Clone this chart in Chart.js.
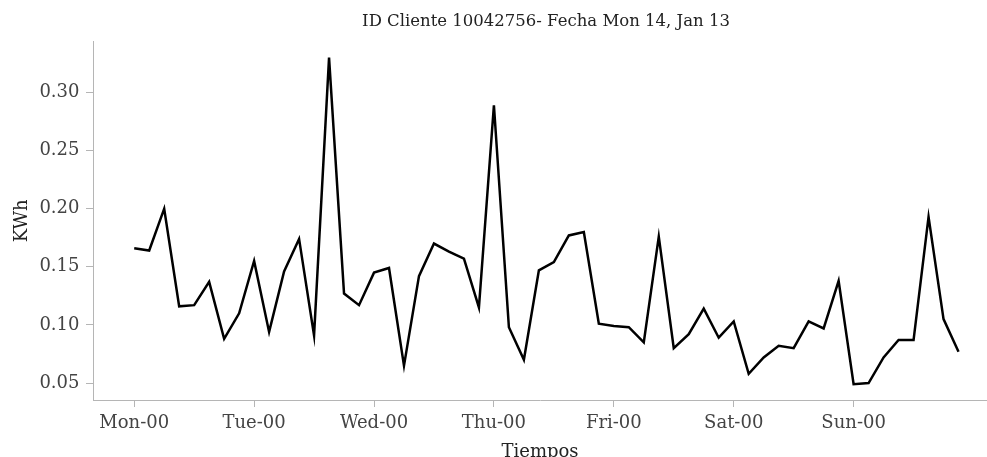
<!DOCTYPE html>
<html>
<head>
<meta charset="utf-8">
<script src="https://cdn.jsdelivr.net/npm/chart.js@4"></script>
<style>
  html, body { margin: 0; padding: 0; background: #fff; }
  #wrap { width: 987px; height: 457px; }
</style>
</head>
<body>
<div id="wrap"><canvas id="kwhChart" width="987" height="457"></canvas></div>
<script>
// consumo cada 3 horas, lunes 00h a domingo 21h
const kwh = [
  0.166, 0.164, 0.200, 0.116, 0.117, 0.137, 0.088, 0.110,
  0.155, 0.094, 0.146, 0.174, 0.091, 0.330, 0.127, 0.117,
  0.145, 0.149, 0.065, 0.142, 0.170, 0.163, 0.157, 0.115,
  0.289, 0.098, 0.070, 0.147, 0.154, 0.177, 0.180, 0.101,
  0.099, 0.098, 0.085, 0.176, 0.080, 0.092, 0.114, 0.089,
  0.103, 0.058, 0.072, 0.082, 0.080, 0.103, 0.097, 0.138,
  0.049, 0.050, 0.072, 0.087, 0.087, 0.193, 0.105, 0.077,
];
const dayLabels = ["Mon-00", "Tue-00", "Wed-00", "Thu-00", "Fri-00", "Sat-00", "Sun-00"];
const stepsPerDay = 8;
const yTicks = [0.05, 0.10, 0.15, 0.20, 0.25, 0.30];

const chartTitle = "ID Cliente 10042756- Fecha Mon 14, Jan 13";
const axisGray = "#b5b5b5";
const serif = "'DejaVu Serif', serif";

// same margins as the original plot (5% each side)
const yMin = 0.0354;
const yMax = 0.3436;
const xMin = -2.75;
const xMax = 56.9;

const points = kwh.map((v, i) => ({ x: i, y: v }));

// the original axes run past the right edge, so its title sits a bit right of our chart area centre
const titleShift = {
  id: "titleShift",
  afterLayout(chart) {
    const t = chart.titleBlock;
    if (!t) return;
    t.left += 6;
    t.right += 6;
  },
};

const kwhChart = new Chart(document.getElementById("kwhChart"), {
  type: "line",
  data: {
    datasets: [
      {
        data: points,
        borderColor: "#000",
        borderWidth: 2.5,
        pointRadius: 0,
        tension: 0,
        fill: false,
      },
    ],
  },
  plugins: [titleShift],
  options: {
    responsive: false,
    animation: false,
    layout: { padding: 0 },
    plugins: {
      legend: { display: false },
      tooltip: { enabled: false },
      title: {
        display: true,
        text: chartTitle,
        fullSize: false,
        color: "#222",
        font: { family: serif, size: 16.5, weight: "normal", lineHeight: 1.2 },
        padding: { top: 12, bottom: 10 },
      },
    },
    scales: {
      x: {
        type: "linear",
        min: xMin,
        max: xMax,
        afterBuildTicks: (scale) => {
          scale.ticks = dayLabels.map((d, i) => ({ value: i * stepsPerDay }));
        },
        afterFit: (scale) => {
          scale.height = 57;
        },
        ticks: {
          color: "#444",
          padding: 5.5,
          maxRotation: 0,
          autoSkip: false,
          font: { family: serif, size: 18 },
          callback: (v) => dayLabels[Math.round(v / stepsPerDay)],
        },
        grid: {
          drawOnChartArea: false,
          drawTicks: true,
          tickLength: 7,
          color: axisGray,
        },
        border: { display: true, color: axisGray, width: 1 },
        title: {
          display: true,
          text: "Tiempos",
          color: "#222",
          font: { family: serif, size: 18, lineHeight: 1 },
          padding: { top: 0, bottom: -4.5 },
        },
      },
      y: {
        type: "linear",
        min: yMin,
        max: yMax,
        afterBuildTicks: (scale) => {
          scale.ticks = yTicks.map((v) => ({ value: v }));
        },
        afterFit: (scale) => {
          scale.width = 93;
        },
        ticks: {
          color: "#444",
          padding: 6.5,
          font: { family: serif, size: 18 },
          callback: (v) => v.toFixed(2),
        },
        grid: {
          drawOnChartArea: false,
          drawTicks: true,
          tickLength: 7,
          color: axisGray,
        },
        border: { display: true, color: axisGray, width: 1 },
        title: {
          display: true,
          text: "KWh",
          color: "#222",
          font: { family: serif, size: 18, lineHeight: 1 },
          padding: { top: 13, bottom: 0 },
        },
      },
    },
  },
});
</script>
</body>
</html>
